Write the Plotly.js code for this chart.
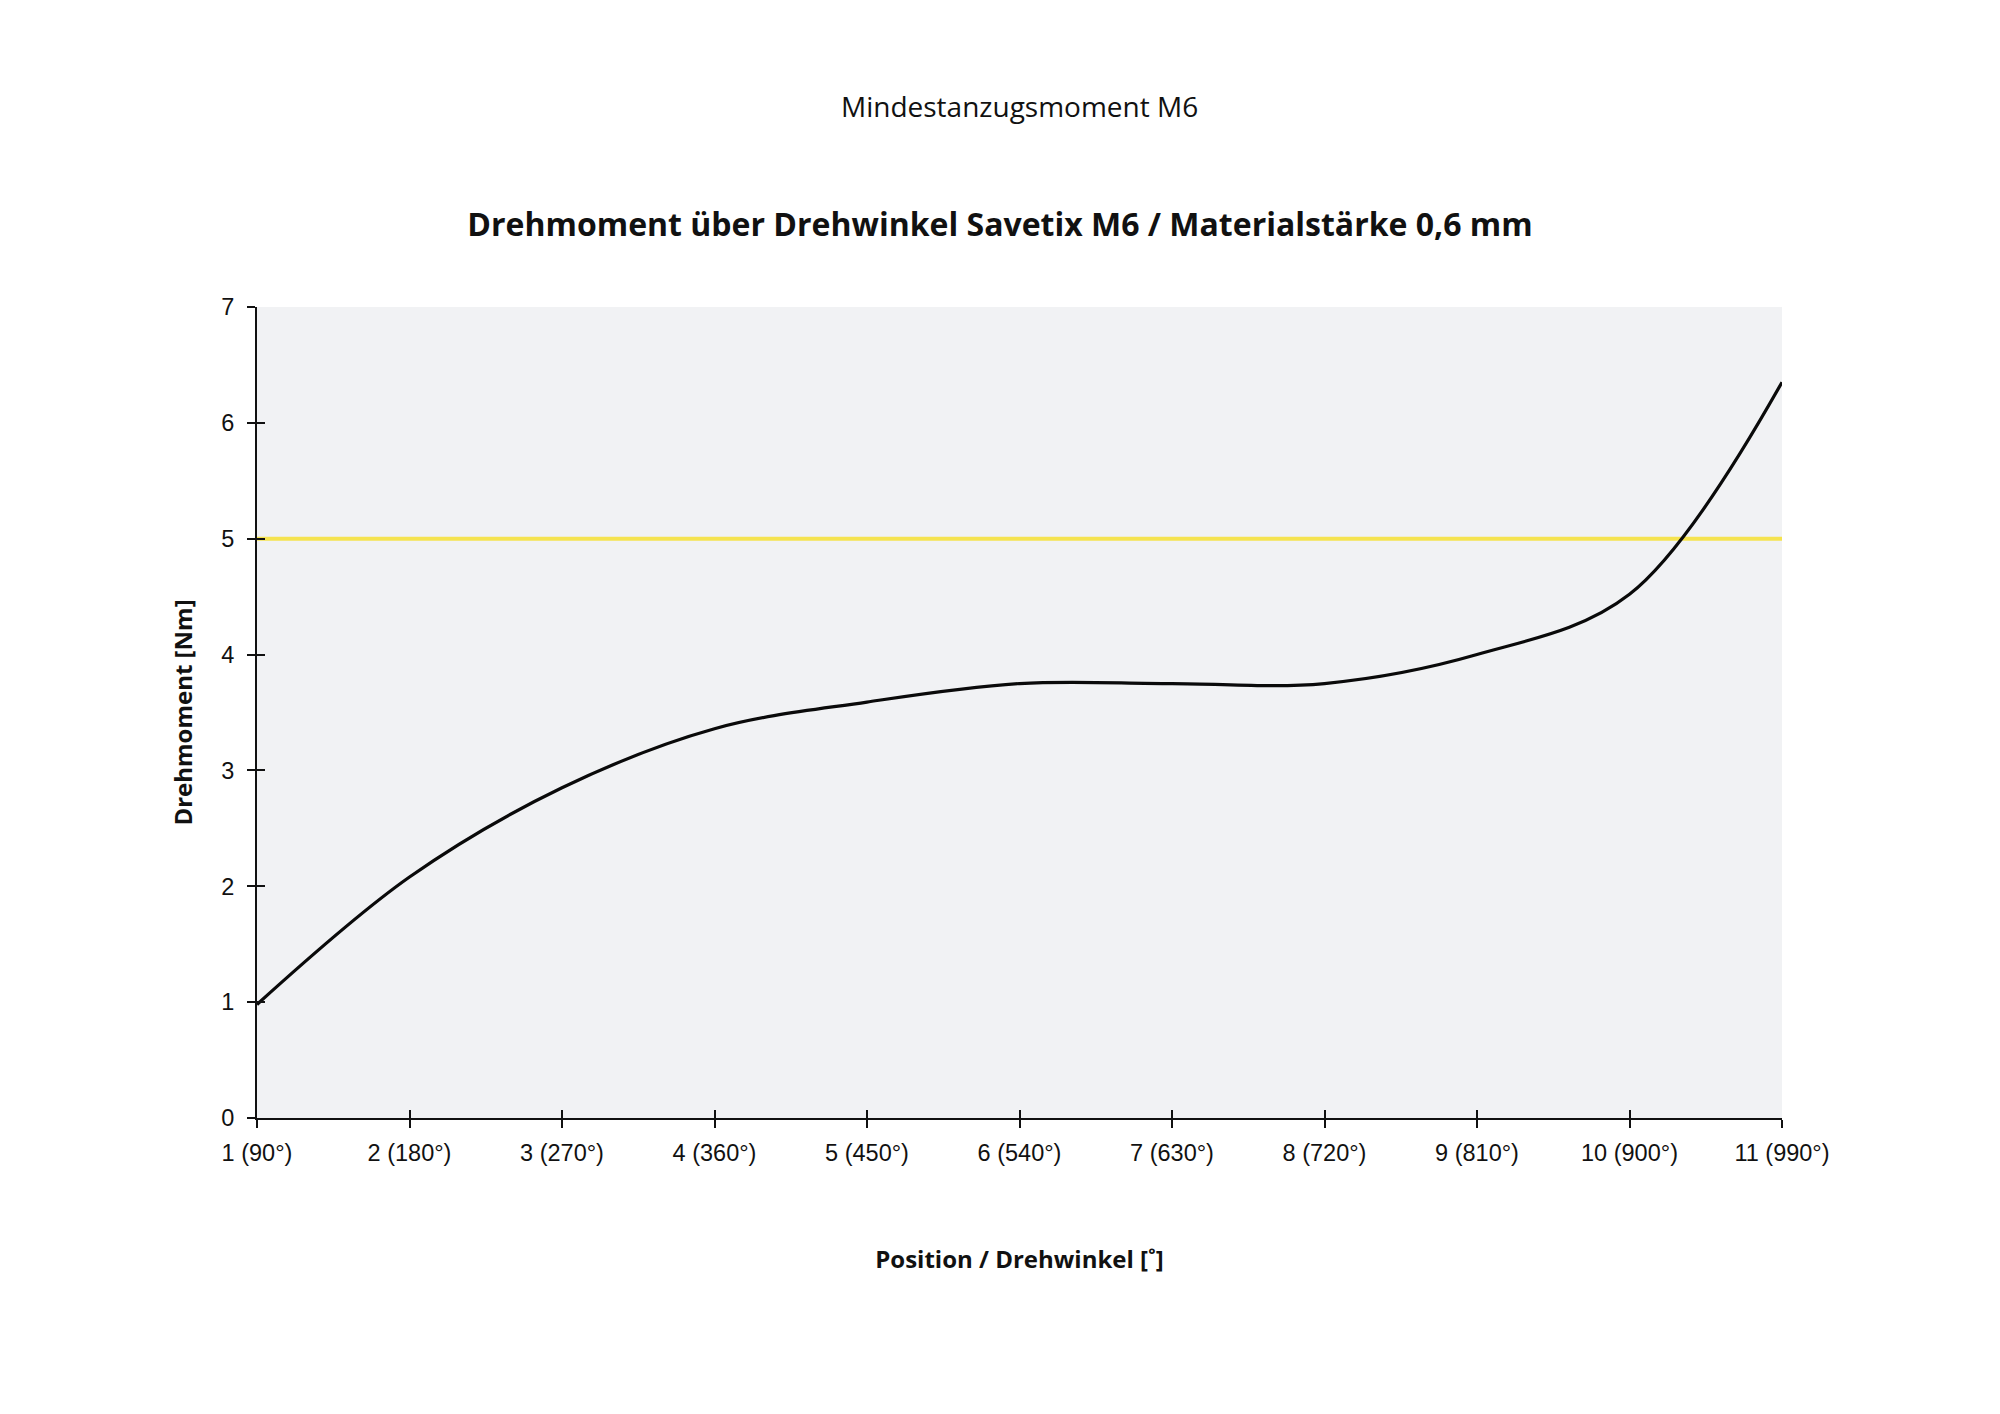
<!DOCTYPE html>
<html>
<head>
<meta charset="utf-8">
<script src="https://cdn.plot.ly/plotly-3.0.1.min.js"></script>
<style>html,body{margin:0;padding:0;background:#fff;}#chart{width:2000px;height:1414px;}</style>
</head>
<body>
<div id="chart"></div>
<script>
// Data
const positions = [1, 2, 3, 4, 5, 6, 7, 8, 9, 10, 11];
const tickLabels = ["1 (90°)", "2 (180°)", "3 (270°)", "4 (360°)", "5 (450°)", "6 (540°)", "7 (630°)", "8 (720°)", "9 (810°)", "10 (900°)", "11 (990°)"];
const torque = [0.98, 2.08, 2.85, 3.36, 3.59, 3.75, 3.75, 3.75, 4.0, 4.52, 6.35];
const minTorque = 5;
const yTicks = [0, 1, 2, 3, 4, 5, 6, 7];

const chartTitle = "Drehmoment über Drehwinkel Savetix M6 / Materialstärke 0,6 mm";
const subTitle = "Mindestanzugsmoment M6";
const xTitle = "Position / Drehwinkel [˚]";
const yTitle = "Drehmoment [Nm]";

const xRange = [positions[0], positions[positions.length - 1]];
const yRange = [yTicks[0], yTicks[yTicks.length - 1]];

const traces = [
  {
    x: [xRange[0], xRange[1]],
    y: [minTorque, minTorque],
    mode: "lines",
    line: {color: "#f5e34f", width: 4},
    xaxis: "x", yaxis: "y",
    hoverinfo: "skip",
    showlegend: false
  },
  {
    x: positions,
    y: torque,
    mode: "lines",
    line: {color: "#0a0a0a", width: 3.2, shape: "spline", smoothing: 1},
    xaxis: "x2", yaxis: "y2",
    showlegend: false
  }
];

const tickFont = {family: "Liberation Sans, Arial, sans-serif", size: 23.5, color: "#111"};
const titleFamily = "Open Sans, sans-serif";

const layout = {
  width: 2000,
  height: 1414,
  paper_bgcolor: "#ffffff",
  plot_bgcolor: "#f1f2f4",
  margin: {l: 257, r: 218, t: 307, b: 296, pad: 0},
  showlegend: false,
  title: {
    text: chartTitle,
    font: {family: titleFamily, size: 32, color: "#111", weight: 700},
    x: 0.5, xref: "container", xanchor: "center",
    y: 1 - 225 / 1414, yref: "container", yanchor: "middle"
  },
  xaxis: {
    range: xRange,
    tickvals: positions,
    ticktext: tickLabels,
    ticks: "outside", ticklen: 8, tickwidth: 2, tickcolor: "#111",
    ticklabelstandoff: 5,
    showline: true, linecolor: "#111", linewidth: 2,
    showgrid: false, zeroline: false,
    tickfont: tickFont,
    title: {text: xTitle, font: {family: titleFamily, size: 24, color: "#111", weight: 700}, standoff: 86},
    fixedrange: true
  },
  yaxis: {
    range: yRange,
    tickvals: yTicks,
    ticks: "outside", ticklen: 8, tickwidth: 2, tickcolor: "#111",
    ticklabelstandoff: 8,
    showline: true, linecolor: "#111", linewidth: 2,
    showgrid: false, zeroline: false,
    tickfont: tickFont,
    title: {text: yTitle, font: {family: titleFamily, size: 24, color: "#111", weight: 700}, standoff: 22},
    fixedrange: true
  },
  xaxis2: {
    overlaying: "x", anchor: "y2", side: "bottom",
    range: xRange, tickvals: positions,
    ticks: "inside", ticklen: 8, tickwidth: 2, tickcolor: "#111",
    showticklabels: false, showline: false, showgrid: false, zeroline: false,
    fixedrange: true
  },
  yaxis2: {
    overlaying: "y", anchor: "x2", side: "left",
    range: yRange, tickvals: yTicks,
    ticks: "inside", ticklen: 8, tickwidth: 2, tickcolor: "#111",
    showticklabels: false, showline: false, showgrid: false, zeroline: false,
    fixedrange: true
  },
  annotations: [
    {
      text: subTitle,
      xref: "paper", yref: "paper",
      x: 0.5, y: (1118 - 106) / 811,
      xanchor: "center", yanchor: "middle",
      showarrow: false,
      font: {family: titleFamily, size: 28, color: "#111"}
    }
  ]
};

Plotly.newPlot("chart", traces, layout, {displayModeBar: false, staticPlot: true});
</script>
</body>
</html>
